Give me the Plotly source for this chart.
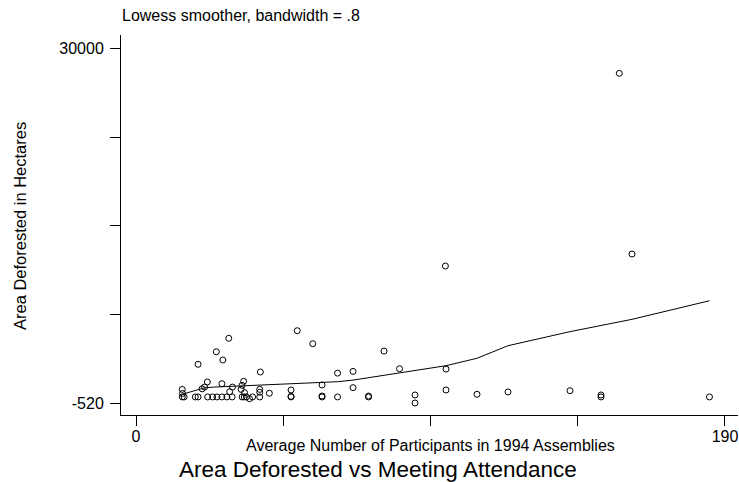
import plotly.graph_objects as go

# Data
participants = [14.9, 14.9, 15.5, 15.0, 19.1, 20.0, 20.0, 21.3, 22.1, 23.0,
                23.1, 24.7, 25.9, 26.1, 27.7, 27.7, 28.0, 29.3, 29.9, 30.2,
                31.0, 31.1, 33.9, 34.2, 34.2, 34.7, 34.9, 35.0, 35.6, 36.6,
                37.6, 39.9, 39.9, 39.9, 40.1, 43.0, 50.0, 50.0, 50.0, 52.0,
                57.0, 60.0, 60.0, 60.0, 65.0, 65.0, 70.0, 70.0, 75.0, 75.0,
                80.0, 85.0, 90.0, 90.0, 100.0, 100.0, 99.8, 110.0, 120.0, 140.0,
                150.0, 150.0, 155.9, 160.0, 185.0]
deforested = [650, 0, 0, 300, 0, 0, 2810, 700, 850, 1290,
              0, 0, 3890, 0, 0, 1140, 3180, 0, 5050, 450,
              0, 850, 650, 0, 1000, 1350, 0, 370, 0, -150,
              0, 0, 400, 650, 2150, 320, 600, 0, 50, 5700,
              4580, 1030, 0, 80, 2050, 0, 2200, 800, 0, 80,
              3950, 2430, 170, -520, 2400, 600, 11270, 230, 430, 540,
              170, 0, 27850, 12300, 0]

lowess_x = [14.9, 20.0, 22.0, 25.0, 30.0, 35.0, 40.0, 43.0, 50.0, 60.0, 65.0,
            70.0, 75.0, 80.0, 85.0, 90.0, 100.0, 110.0, 120.0, 140.0, 150.0,
            156.0, 160.0, 185.0]
lowess_y = [230, 600, 780, 850, 900, 950, 1000, 1030, 1150, 1240, 1310,
            1450, 1660, 1850, 2050, 2260, 2690, 3330, 4410, 5620, 6150,
            6450, 6680, 8280]

x_ticks = [0, 47.5, 95, 142.5, 190]
x_ticklabels = ["0", "", "", "", "190"]
y_ticks = [-520, 7110, 14740, 22370, 30000]
y_ticklabels = ["-520", "", "", "", "30000"]

W, H = 739, 482
ML, MR, MT, MB = 121, 1, 35, 67
FONT = "Liberation Sans, Arial, sans-serif"


def px_x(px):
    return (px - ML) / (W - ML - MR)


def px_y(py):
    return 1 - (py - MT) / (H - MT - MB)


fig = go.Figure()
fig.add_trace(go.Scatter(
    x=participants, y=deforested, mode="markers",
    marker=dict(symbol="circle-open", size=6, color="black", line=dict(width=1, color="black")),
    showlegend=False, hoverinfo="x+y"))
fig.add_trace(go.Scatter(
    x=lowess_x, y=lowess_y, mode="lines",
    line=dict(color="black", width=1), showlegend=False))

fig.update_layout(
    width=W, height=H,
    margin=dict(l=ML, r=MR, t=MT, b=MB, pad=0),
    paper_bgcolor="white", plot_bgcolor="white",
    font=dict(family=FONT, size=16, color="black"),
    xaxis=dict(range=[-4.86, 194.2], showline=True, linecolor="black", linewidth=1,
               ticks="outside", ticklen=10, tickwidth=1, tickcolor="black",
               tickvals=x_ticks, ticktext=x_ticklabels, showgrid=False, zeroline=False,
               tickfont=dict(size=16), ticklabelstandoff=-3),
    yaxis=dict(range=[-1553, 31149], showline=True, linecolor="black", linewidth=1,
               ticks="outside", ticklen=10, tickwidth=1, tickcolor="black",
               tickvals=y_ticks, ticktext=y_ticklabels, showgrid=False, zeroline=False,
               tickfont=dict(size=16), ticklabelstandoff=3),
    annotations=[
        dict(text="Lowess smoother, bandwidth = .8", xref="paper", yref="paper",
             x=px_x(120), y=px_y(16), xanchor="left", yanchor="middle",
             showarrow=False, font=dict(size=16)),
        dict(text="Area Deforested in Hectares", xref="paper", yref="paper",
             x=px_x(20), y=px_y(226), xanchor="center", yanchor="middle",
             textangle=-90, showarrow=False, font=dict(size=16.5)),
        dict(text="Average Number of Participants in 1994 Assemblies", xref="paper", yref="paper",
             x=px_x(430), y=px_y(446), xanchor="center", yanchor="middle",
             showarrow=False, font=dict(size=16)),
        dict(text="Area Deforested vs Meeting Attendance", xref="paper", yref="paper",
             x=px_x(378), y=px_y(469), xanchor="center", yanchor="middle",
             showarrow=False, font=dict(size=22.5)),
    ],
)

fig.write_html("out.html")
